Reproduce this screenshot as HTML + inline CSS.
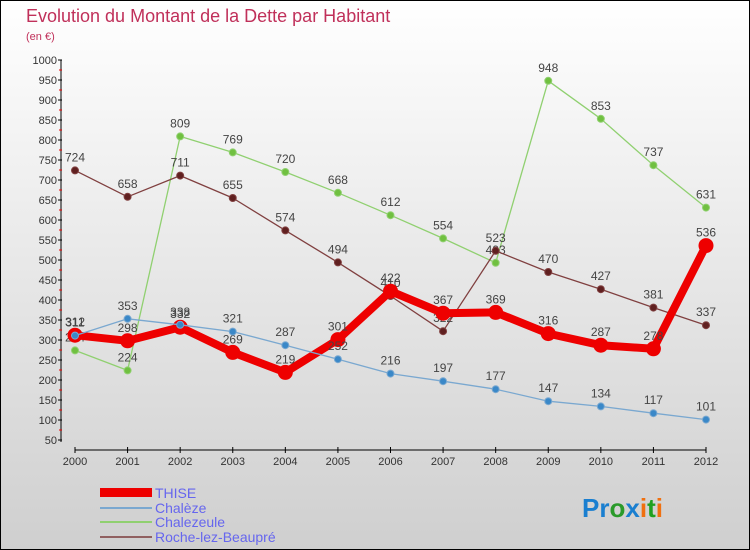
<!DOCTYPE html>
<html><head><meta charset="utf-8"><style>
body{margin:0;}
svg{display:block;font-family:"Liberation Sans",sans-serif;}
</style></head><body>
<svg id="c" width="750" height="550" xmlns="http://www.w3.org/2000/svg">
<defs><linearGradient id="bg" x1="0" y1="0" x2="0" y2="1"><stop offset="0" stop-color="#ffffff"/><stop offset="1" stop-color="#cfcfcf"/></linearGradient></defs>
<rect x="0.5" y="0.5" width="749" height="549" fill="url(#bg)" stroke="#000"/>
<text x="26" y="22" font-size="18" fill="#c0305a">Evolution du Montant de la Dette par Habitant</text>
<text x="26" y="40" font-size="11" fill="#c0305a">(en €)</text>
<g id="axes"></g><g id="series"></g>
<g>
<rect x="100" y="488" width="52" height="9" fill="#e00"/>
<text x="155" y="498" font-size="14" fill="#6666ee">THISE</text>
<line x1="100" y1="508" x2="152" y2="508" stroke="#7aa8d0" stroke-width="2"/>
<text x="155" y="513" font-size="14" fill="#6666ee">Chalèze</text>
<line x1="100" y1="522" x2="152" y2="522" stroke="#90d070" stroke-width="2"/>
<text x="155" y="527" font-size="14" fill="#6666ee">Chalezeule</text>
<line x1="100" y1="537" x2="152" y2="537" stroke="#906060" stroke-width="2"/>
<text x="155" y="542" font-size="14" fill="#6666ee">Roche-lez-Beaupré</text>
</g>
<text x="582" y="517" font-size="26" font-weight="bold"><tspan fill="#1a7fd0">Pr</tspan><tspan fill="#2a9a2a">o</tspan><tspan fill="#1a7fd0">x</tspan><tspan fill="#f07010">i</tspan><tspan fill="#20a020">t</tspan><tspan fill="#f07010">i</tspan></text>
</svg>
<script>
const years=["2000","2001","2002","2003","2004","2005","2006","2007","2008","2009","2010","2011","2012"];
const yTicks=[50,100,150,200,250,300,350,400,450,500,550,600,650,700,750,800,850,900,950,1000];
const thise=[312,298,332,269,219,301,422,367,369,316,287,278,536];
const chaleze=[311,353,338,321,287,252,216,197,177,147,134,117,101];
const chalezeule=[274,224,809,769,720,668,612,554,493,948,853,737,631];
const roche=[724,658,711,655,574,494,410,322,523,470,427,381,337];
const NS="http://www.w3.org/2000/svg";
const X=i=>75+i*(706-75)/12;
const Y=v=>60+(1000-v)*0.4;
function mk(t,a,p){const e=document.createElementNS(NS,t);for(const k in a)e.setAttribute(k,a[k]);p.appendChild(e);return e;}
const ax=document.getElementById('axes');
mk('line',{x1:61,y1:60,x2:61,y2:442,stroke:'#000'},ax);
mk('line',{x1:75,y1:450,x2:706,y2:450,stroke:'#000'},ax);
yTicks.forEach(v=>{
 mk('line',{x1:58,y1:Y(v),x2:62,y2:Y(v),stroke:'#000'},ax);
 if(v<1000) mk('line',{x1:59,y1:Y(v+25),x2:62,y2:Y(v+25),stroke:'#e00'},ax);
 const t=mk('text',{x:57,y:Y(v)+4,'font-size':11,fill:'#333','text-anchor':'end'},ax);
 t.textContent=v;
 
 
});
years.forEach((y,i)=>{
 mk('line',{x1:X(i),y1:447,x2:X(i),y2:453,stroke:'#000'},ax);
 const t=mk('text',{x:X(i),y:465,'font-size':11,fill:'#333','text-anchor':'middle'},ax);
 t.textContent=y;
 
 
});
const sg=document.getElementById('series');
function series(vals,color,w,r,dot,name){
 const g=mk('g',{},sg);
 
 
 mk('polyline',{points:vals.map((v,i)=>X(i)+','+Y(v)).join(' '),fill:'none',stroke:color,'stroke-width':w,'stroke-linejoin':'round'},g);
 vals.forEach((v,i)=>{
  const c=mk('circle',{cx:X(i),cy:Y(v),r:r,fill:dot,stroke:color,'stroke-width':1},g);
  
  
  const t=mk('text',{x:X(i),y:Y(v)-9,'font-size':12,fill:'#444','text-anchor':'middle'},g);
  t.textContent=v;
  
  
 });
}
series(chalezeule,'#90d070',1.3,3.5,'#70c040','chalezeule');
series(roche,'#804040',1.3,3.5,'#602020','roche');
series(thise,'#ee0000',8,7,'#ee0000','thise');
series(chaleze,'#7aa8d0',1.3,3.5,'#3a88c8','chaleze');
</script>
</body></html>
